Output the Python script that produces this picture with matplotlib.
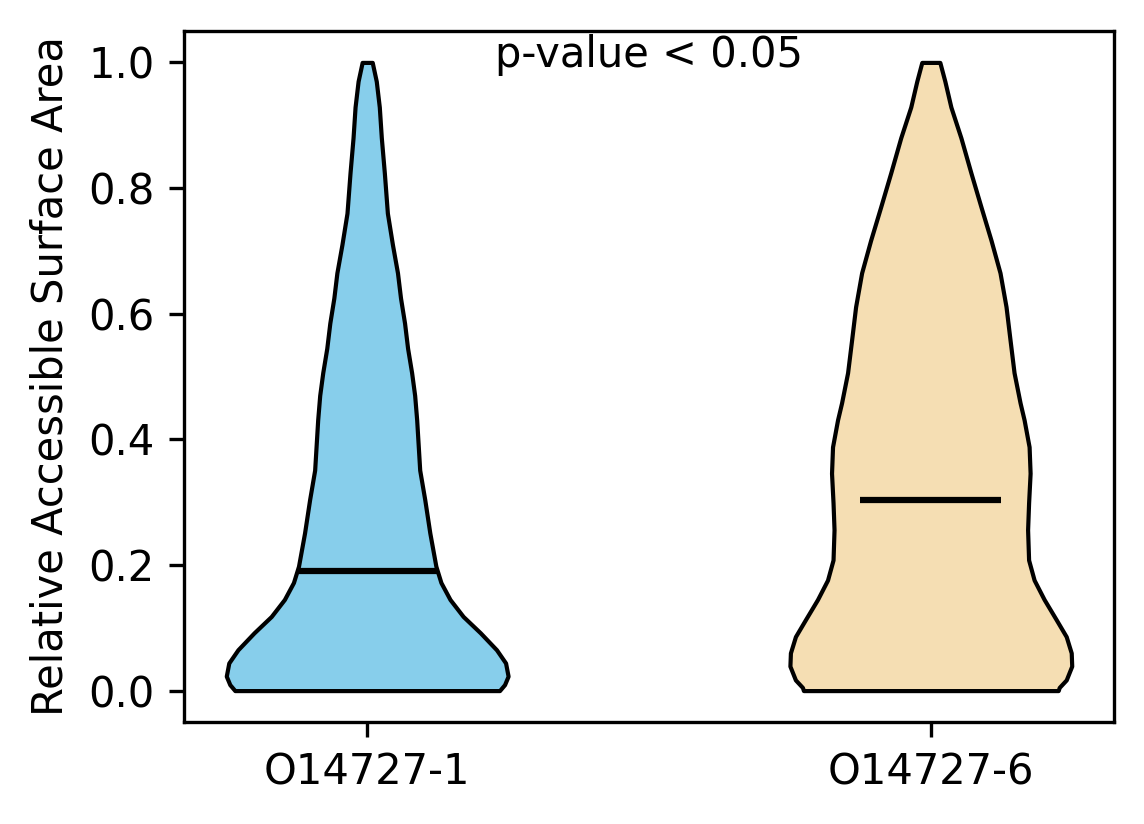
import matplotlib
matplotlib.use("Agg")
import matplotlib.pyplot as plt
import numpy as np

labels = ["O14727-1", "O14727-6"]
colors = ["skyblue", "wheat"]
medians = [0.19, 0.304]

# violin outline: y value and half width (pixels)
y1 = [0.0, 0.0095, 0.023, 0.044, 0.065, 0.092, 0.118, 0.145, 0.172, 0.198,
      0.251, 0.304, 0.351, 0.431, 0.47, 0.506, 0.545, 0.585, 0.625, 0.665,
      0.71, 0.76, 0.824, 0.88, 0.929, 0.97, 1.0]
w1 = [131, 136, 139.5, 137, 128, 112, 95, 82, 73, 68,
      62, 57, 52, 49, 47, 44, 40, 37, 33, 30,
      25, 20, 17, 14, 12, 9, 5]

y2 = [0.0, 0.005, 0.017, 0.039, 0.060, 0.086, 0.113, 0.145, 0.176, 0.208,
      0.256, 0.299, 0.346, 0.388, 0.431, 0.458, 0.506, 0.558, 0.611, 0.665,
      0.717, 0.77, 0.824, 0.88, 0.929, 0.97, 1.0]
w2 = [127, 128, 135, 140.5, 140, 135, 125, 113, 103, 97.5,
      96.5, 97.5, 99, 98, 93, 89, 83, 79, 75, 69,
      60, 50, 40, 30, 20, 14, 9]

stats = []
for ys, ws, med in [(y1, w1, medians[0]), (y2, w2, medians[1])]:
    stats.append(dict(coords=np.array(ys), vals=np.array(ws, dtype=float),
                      mean=med, median=med, min=ys[0], max=ys[-1]))

fig = plt.figure(figsize=(1144 / 300, 824 / 300), dpi=300)
ax = fig.add_axes([184 / 1144, 1 - 722 / 824, 930 / 1144, 691 / 824])

parts = ax.violin(stats, positions=[1, 2], widths=0.5,
                  showmeans=False, showextrema=False, showmedians=True)
for body, c in zip(parts["bodies"], colors):
    body.set_facecolor(c)
    body.set_edgecolor("black")
    body.set_alpha(1)
parts["cmedians"].set_color("black")

ax.set_xticks([1, 2])
ax.set_xticklabels(labels)
ax.set_ylabel("Relative Accessible Surface Area")
ax.text(1.5, 0.993, "p-value < 0.05", ha="center", va="baseline")

fig.savefig("out.png", dpi=300)
